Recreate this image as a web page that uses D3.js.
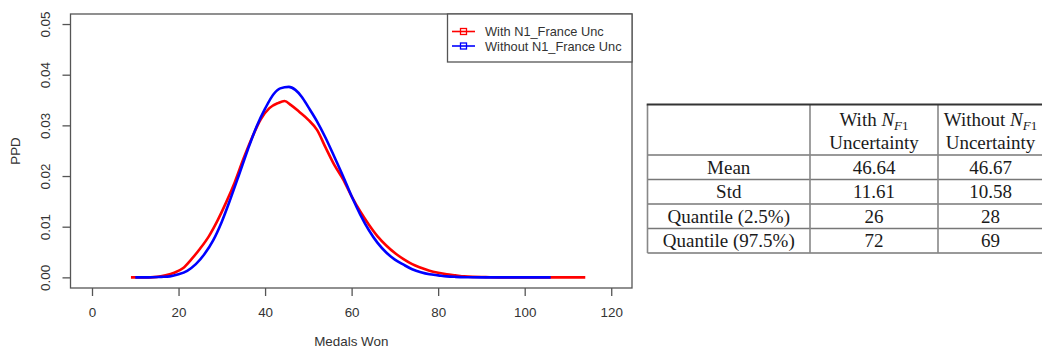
<!DOCTYPE html>
<html>
<head>
<meta charset="utf-8">
<script src="https://cdn.jsdelivr.net/npm/d3@7"></script>
<style>
  body { margin: 0; background: #fff; }
  svg { display: block; }
  .rtext { font-family: "Liberation Sans", Arial, sans-serif; font-size: 13.4px; fill: #333; }
  .ttext { font-family: "Liberation Serif", "Times New Roman", serif; font-size: 19px; fill: #1a1a1a; }
</style>
</head>
<body>
<div id="chart"></div>
<script>
// red curve: with N1_France uncertainty
var withMedals = [9, 12, 15, 17, 19, 21, 23, 25, 27, 29, 31, 33, 35, 37, 39, 41, 43, 44.5, 46, 48, 50, 52, 54, 56, 58, 60, 62, 64, 66, 68, 70, 72, 74, 76, 78, 80, 82, 84, 86, 88, 91, 95, 114];
var withPPD = [0, 0, 0.0001, 0.0004, 0.0009, 0.0018, 0.0036, 0.0057, 0.0081, 0.0112, 0.0148, 0.0188, 0.0234, 0.0276, 0.0312, 0.0334, 0.0344, 0.0348, 0.0340, 0.0326, 0.0311, 0.0291, 0.0256, 0.0222, 0.0194, 0.0160, 0.0130, 0.0104, 0.0081, 0.0063, 0.0048, 0.0036, 0.0026, 0.0019, 0.0013, 0.0009, 0.0006, 0.0004, 0.0002, 0.0001, 0.00005, 0, 0];

// blue curve: without N1_France uncertainty
var withoutMedals = [10, 13, 16, 18, 20, 22, 24, 26, 28, 30, 32, 34, 36, 38, 40, 42, 43.5, 45.5, 47, 48.5, 50, 52, 54, 56, 58, 60, 62, 64, 66, 68, 70, 72, 74, 76, 78, 80, 82, 84, 87, 90, 106];
var withoutPPD = [0, 0, 0.0001, 0.0002, 0.0006, 0.0013, 0.0026, 0.0046, 0.0073, 0.0110, 0.0155, 0.0203, 0.0252, 0.0297, 0.0333, 0.0362, 0.0373, 0.0376, 0.0370, 0.0356, 0.0336, 0.0308, 0.0275, 0.0238, 0.0200, 0.0160, 0.0124, 0.0093, 0.0068, 0.0049, 0.0035, 0.0025, 0.0016, 0.0010, 0.0006, 0.0004, 0.0002, 0.0001, 0.00003, 0, 0];

var xTicks = [0, 20, 40, 60, 80, 100, 120];
var yTicks = [0, 0.01, 0.02, 0.03, 0.04, 0.05];
var legendLabels = ["With N1_France Unc", "Without N1_France Unc"];
var seriesColors = ["#ff0000", "#0000ff"];

// table
var tableRows = ["Mean", "Std", "Quantile (2.5%)", "Quantile (97.5%)"];
var tableWith = ["46.64", "11.61", "26", "72"];
var tableWithout = ["46.67", "10.58", "28", "69"];

var svg = d3.select("#chart")
  .append("svg")
  .attr("width", 1042)
  .attr("height", 350);

svg.append("rect").attr("width", 1042).attr("height", 350).attr("fill", "#fff");

// plot box
var box = {left: 70.5, right: 632, top: 14, bottom: 288};

var x = d3.scaleLinear()
  .domain([-4.97, 124.8])
  .range([box.left, box.right]);

var y = d3.scaleLinear()
  .domain([-0.0021, 0.05198])
  .range([box.bottom, box.top]);

// curves, red under blue
var line = d3.line()
  .x(function(d) { return x(d[0]); })
  .y(function(d) { return y(d[1]); })
  .curve(d3.curveMonotoneX);

var series = [d3.zip(withMedals, withPPD), d3.zip(withoutMedals, withoutPPD)];

svg.append("g")
  .selectAll("path")
  .data(series)
  .join("path")
  .attr("d", line)
  .attr("fill", "none")
  .attr("stroke", function(d, i) { return seriesColors[i]; })
  .attr("stroke-width", 2.6)
  .attr("stroke-linejoin", "round");

svg.append("rect")
  .attr("x", box.left)
  .attr("y", box.top)
  .attr("width", box.right - box.left)
  .attr("height", box.bottom - box.top)
  .attr("fill", "none")
  .attr("stroke", "#555")
  .attr("stroke-width", 1.3);

// x axis
var xAxis = svg.append("g")
  .attr("transform", "translate(0," + box.bottom + ")")
  .call(d3.axisBottom(x).tickValues(xTicks).tickSize(8).tickPadding(11).tickFormat(d3.format("d")));
xAxis.select(".domain").remove();
xAxis.selectAll("line").attr("stroke", "#555").attr("stroke-width", 1.3);
xAxis.selectAll("text").attr("class", "rtext").attr("fill", null);
xAxis.attr("font-size", null).attr("font-family", null);

// y axis
var yAxis = svg.append("g")
  .attr("transform", "translate(" + box.left + ",0)")
  .call(d3.axisLeft(y).tickValues(yTicks).tickSize(8).tickFormat(d3.format(".2f")));
yAxis.select(".domain").remove();
yAxis.selectAll("line").attr("stroke", "#555").attr("stroke-width", 1.3);
yAxis.attr("font-size", null).attr("font-family", null);
yAxis.selectAll("text")
  .attr("class", "rtext")
  .attr("fill", null)
  .attr("x", null)
  .attr("dy", null)
  .attr("text-anchor", "middle")
  .attr("transform", "translate(-21,0) rotate(-90)");

// axis titles
svg.append("text")
  .attr("class", "rtext")
  .attr("text-anchor", "middle")
  .attr("x", (box.left + box.right) / 2)
  .attr("y", 346)
  .text("Medals Won");

svg.append("text")
  .attr("class", "rtext")
  .attr("text-anchor", "middle")
  .attr("transform", "translate(19.5," + ((box.top + box.bottom) / 2) + ") rotate(-90)")
  .text("PPD");

// legend
var legend = svg.append("g");
legend.append("rect")
  .attr("x", 447.5)
  .attr("y", box.top)
  .attr("width", box.right - 447.5)
  .attr("height", 48)
  .attr("fill", "#fff")
  .attr("stroke", "#555")
  .attr("stroke-width", 1.3);

var items = legend.selectAll("g.item")
  .data(legendLabels)
  .join("g")
  .attr("class", "item")
  .attr("transform", function(d, i) { return "translate(0," + (31.5 + i * 14.5) + ")"; });

items.append("line")
  .attr("x1", 452).attr("x2", 475)
  .attr("stroke", function(d, i) { return seriesColors[i]; })
  .attr("stroke-width", 1.6);
items.append("rect")
  .attr("x", 460.5).attr("y", -3)
  .attr("width", 6).attr("height", 6)
  .attr("fill", "none")
  .attr("stroke", function(d, i) { return seriesColors[i]; })
  .attr("stroke-width", 1.3);
items.append("text")
  .attr("class", "rtext")
  .attr("x", 485)
  .attr("y", 4.5)
  .style("font-size", "12.8px")
  .text(function(d) { return d; });

// table on the right
var tbl = {left: 647.5, right: 1043, top: 104.5, header: 155, rowH: 24.5};
var cols = [647.5, 810, 938, 1043];
var rowY = d3.range(tableRows.length + 1).map(function(i) { return tbl.header + i * tbl.rowH; });

var table = svg.append("g");

// horizontal rules
table.selectAll("line.h")
  .data(rowY)
  .join("line")
  .attr("class", "h")
  .attr("x1", tbl.left).attr("x2", tbl.right)
  .attr("y1", function(d) { return d; }).attr("y2", function(d) { return d; })
  .attr("stroke", "#777")
  .attr("stroke-width", 1.3);

// vertical rules
table.selectAll("line.v")
  .data(cols)
  .join("line")
  .attr("class", "v")
  .attr("x1", function(d) { return d; }).attr("x2", function(d) { return d; })
  .attr("y1", tbl.top).attr("y2", rowY[rowY.length - 1])
  .attr("stroke", "#888")
  .attr("stroke-width", 1.6);

table.append("line")
  .attr("x1", tbl.left - 0.8).attr("x2", tbl.right)
  .attr("y1", tbl.top).attr("y2", tbl.top)
  .attr("stroke", "#333")
  .attr("stroke-width", 2);

// header cells
var headPrefix = ["With ", "Without "];
headPrefix.forEach(function(p, i) {
  var cx = (cols[i + 1] + cols[i + 2]) / 2;
  var t = table.append("text")
    .attr("class", "ttext")
    .attr("text-anchor", "middle")
    .attr("x", cx)
    .attr("y", 126);
  t.append("tspan").text(p);
  t.append("tspan").attr("font-style", "italic").text("N");
  t.append("tspan").attr("font-style", "italic").attr("font-size", "13px").attr("dy", 4).text("F");
  t.append("tspan").attr("font-size", "13px").text("1");
  table.append("text")
    .attr("class", "ttext")
    .attr("text-anchor", "middle")
    .attr("x", cx)
    .attr("y", 149)
    .text("Uncertainty");
});

// body cells
var bodyCols = [tableRows, tableWith, tableWithout];
bodyCols.forEach(function(vals, c) {
  var cx = (cols[c] + cols[c + 1]) / 2;
  table.selectAll(null)
    .data(vals)
    .join("text")
    .attr("class", "ttext")
    .attr("text-anchor", "middle")
    .attr("x", cx)
    .attr("y", function(d, i) { return rowY[i] + tbl.rowH / 2 + 6.5; })
    .text(function(d) { return d; });
});
</script>
</body>
</html>
